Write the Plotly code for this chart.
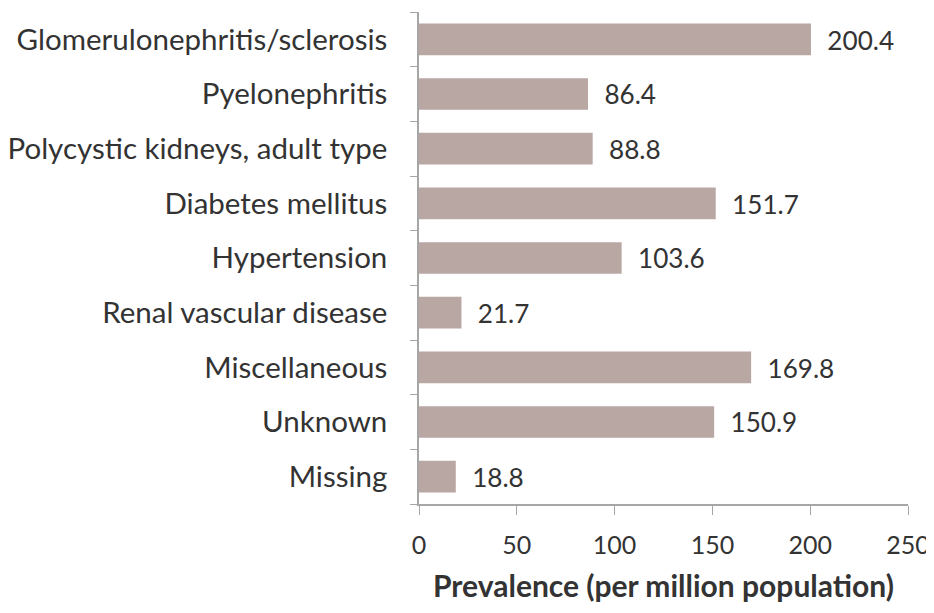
import plotly.graph_objects as go

categories = ["Glomerulonephritis/sclerosis", "Pyelonephritis", "Polycystic kidneys, adult type",
              "Diabetes mellitus", "Hypertension", "Renal vascular disease",
              "Miscellaneous", "Unknown", "Missing"]
values = [200.4, 86.4, 88.8, 151.7, 103.6, 21.7, 169.8, 150.9, 18.8]
labels = ["  " + f"{v:.1f}" for v in values]
x_ticks = [0, 50, 100, 150, 200, 250]

font_family = "Lato, 'Open Sans', sans-serif"
FS = 28

fig = go.Figure(go.Bar(
    y=categories, x=values, orientation="h",
    marker=dict(color="#B9A7A4", line=dict(width=0)),
    width=0.58,
    text=labels, textposition="outside", cliponaxis=False,
    textfont=dict(size=FS, color="#333333", family=font_family),
))

# page body has an 8px default margin, so the figure is sized/offset to fit the window
fig.update_layout(
    width=926, height=597,
    margin=dict(l=411, r=26, t=4, b=101),
    paper_bgcolor="white", plot_bgcolor="white",
    showlegend=False,
    font=dict(family=font_family, size=FS, color="#333333"),
    xaxis=dict(
        range=[0, 250], tickvals=x_ticks, ticktext=[str(t) for t in x_ticks],
        showgrid=False, zeroline=False, automargin=False,
        showline=True, linecolor="#A6A6A6", linewidth=1.5,
        ticks="outside", ticklen=9, tickcolor="#A6A6A6",
        tickfont=dict(size=25, color="#333333"),
        ticklabelstandoff=9, ticklabeloverflow="allow",
        title=dict(text="<b>Prevalence (per million population)</b>",
                   font=dict(size=30, color="#333333"), standoff=18),
    ),
    yaxis=dict(
        categoryorder="array", categoryarray=categories[::-1],
        autorange=False, range=[-0.5, 8.5],
        showgrid=False, zeroline=False, automargin=False,
        showline=True, linecolor="#A6A6A6", linewidth=1.5,
        ticks="outside", ticklen=7, tickcolor="#A6A6A6", tickson="boundaries",
        tickfont=dict(size=29.5, color="#333333"),
        ticklabelstandoff=24,
    ),
)

fig.write_html("out.html")
